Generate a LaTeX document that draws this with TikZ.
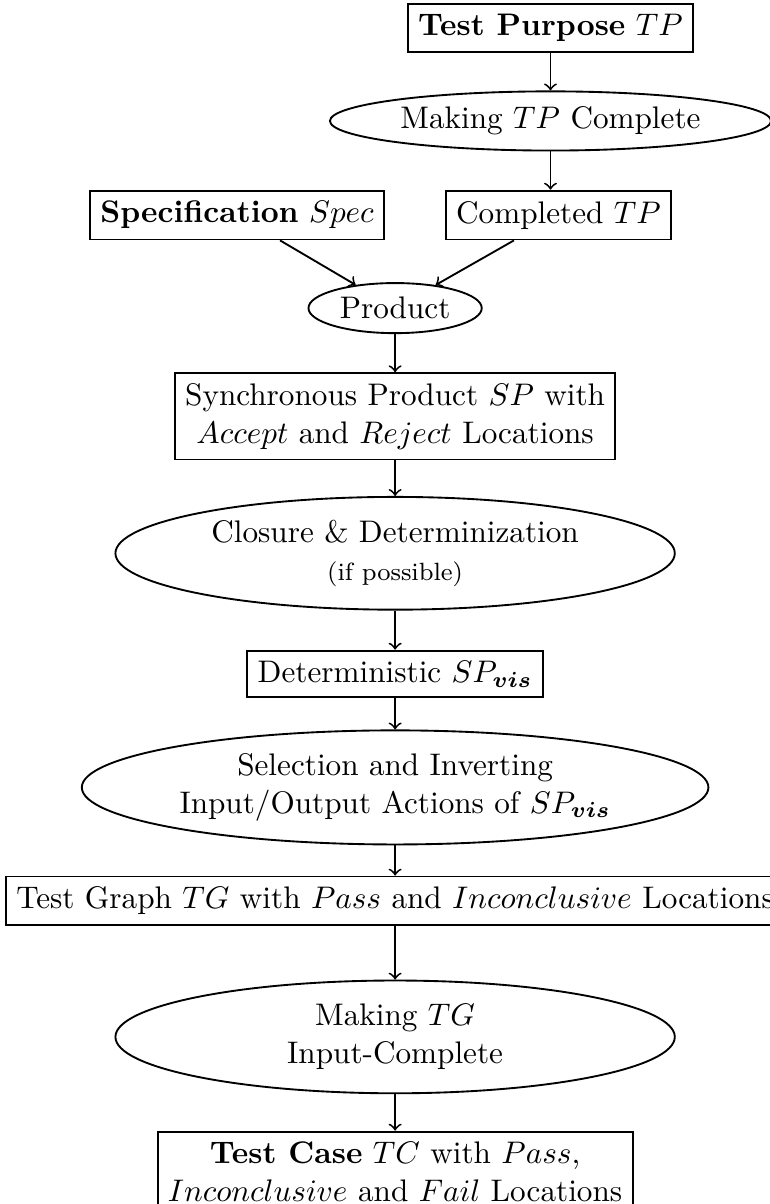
\documentclass[tikz,border=0pt]{standalone}
\usepackage{amsmath,amssymb}
\usepackage{tikz}
\usetikzlibrary{shapes,shapes.geometric,arrows,positioning,calc}

\begin{document}
\begin{tikzpicture}[
    node distance=0.4cm,
    box/.style={rectangle, draw, semithick, align=center},
    op/.style={ellipse, draw, semithick, align=center, inner xsep=1.9pt, inner ysep=2.15pt},
    bigop/.style={op, minimum width=6.3cm, minimum height=1.27cm},
    arrow/.style={->, semithick}
]
\useasboundingbox (-4.45,3.47) rectangle (4.22,-10.09);

\node[op] (product) {Product};
\node[box, above=0.47cm of product, xshift=1.84cm] (completed) {Completed $TP$};
\node[box, above=0.47cm of product, xshift=-1.78cm] (spec) {\textbf{Specification} $Spec$};
\node[op, above=0.43cm of completed, xshift=-0.09cm] (maketp) {Making $TP$ Complete};
\node[box, above=0.42cm of maketp] (purpose) {\textbf{Test Purpose} $TP$};

\node[box, below=0.43cm of product] (sp) {Synchronous Product $SP$ with\\$Accept$ and $Reject$ Locations};
\node[bigop, below=0.4cm of sp] (closure) {Closure \& Determinization\\{\footnotesize (if possible)}};
\node[box, below=0.44cm of closure] (det) {Deterministic $SP_{\boldsymbol{vis}}$};
\node[bigop, below=0.35cm of det] (select) {Selection and Inverting\\Input/Output Actions of $SP_{\boldsymbol{vis}}$};
\node[box, below=0.34cm of select] (tg) {Test Graph $TG$ with $Pass$ and $Inconclusive$ Locations};
\node[bigop, below=0.6cm of tg] (maketg) {Making $TG$\\Input-Complete};
\node[box, below=0.41cm of maketg] (tc) {\textbf{Test Case} $TC$ with $Pass$,\\$Inconclusive$ and $Fail$ Locations};

\draw[arrow] (purpose) -- (maketp);
\draw[arrow] (maketp) -- (maketp |- completed.north);
\draw[arrow] (spec) -- (product);
\draw[arrow] (completed) -- (product);
\draw[arrow] (product) -- (sp);
\draw[arrow] (sp) -- (closure);
\draw[arrow] (closure) -- (det);
\draw[arrow] (det) -- (select);
\draw[arrow] (select) -- (tg);
\draw[arrow] (tg) -- (maketg);
\draw[arrow] (maketg) -- (tc);

\end{tikzpicture}
\end{document}
